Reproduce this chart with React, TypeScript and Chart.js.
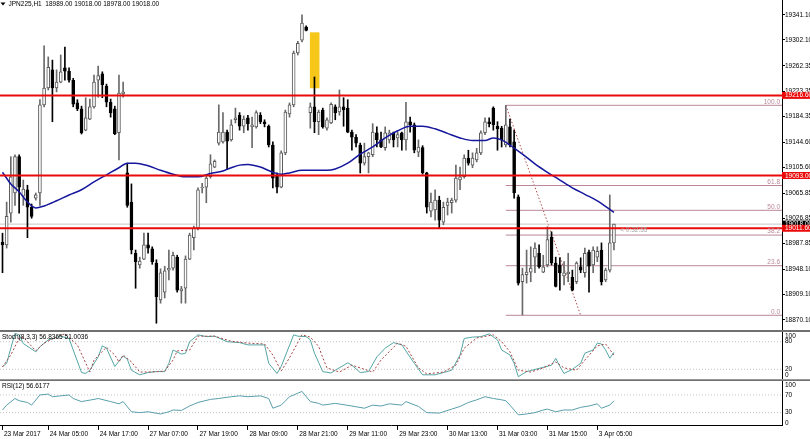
import React, { useEffect, useRef } from "react";
import { Chart, registerables } from "chart.js";

Chart.register(...registerables);

const FONT = "'Liberation Sans', Arial, sans-serif";

// ---------- data ----------
const barOpen = [
  18990, 18986, 19035, 19066, 19122, 19061, 19071, 19044, 19058, 19066,
  19202, 19228, 19256, 19228, 19237, 19259, 19254, 19240, 19205, 19196,
  19163, 19180, 19199, 19240, 19250, 19231, 19206, 19196, 19159, 19219,
  19097, 19052, 18973, 18955, 18964, 18986, 18980, 18958, 18901, 18913,
  18947, 18950, 18967, 18915, 18919, 18964, 18997, 19012, 19074, 19075,
  19091, 19106, 19143, 19145, 19160, 19148, 19179, 19186, 19169, 19182,
  19168, 19168, 19186, 19176, 19169, 19140, 19092, 19075, 19128, 19188,
  19202, 19282, 19302, 19322, 19190, 19199, 19176, 19194, 19166, 19174,
  19199, 19191, 19199, 19197, 19160, 19152, 19140, 19112, 19122, 19125,
  19159, 19148, 19136, 19148, 19159, 19151, 19159, 19148, 19176, 19171,
  19129, 19136, 19097, 19038, 19040, 19055, 19021, 19047, 19051, 19055,
  19086, 19091, 19120, 19109, 19117, 19128, 19159, 19176, 19197, 19169,
  19166, 19140, 19168, 19145, 19060, 18929, 18940, 18944, 18967, 18973,
  18944, 18955, 18998, 18958, 18955, 18938, 18941, 18936, 18929, 18952,
  18943, 18975, 18955, 18967, 18978, 18932, 18947, 18989,
];
const barHigh = [
  19004, 19052, 19122, 19125, 19125, 19086, 19078, 19049, 19066, 19210,
  19293, 19276, 19271, 19256, 19279, 19291, 19259, 19243, 19210, 19200,
  19213, 19211, 19248, 19262, 19253, 19234, 19211, 19200, 19248, 19237,
  19112, 19080, 18978, 18967, 19004, 19004, 18983, 18963, 18949, 18953,
  18978, 18975, 18970, 18922, 18969, 19004, 19015, 19074, 19081, 19094,
  19125, 19117, 19202, 19190, 19163, 19179, 19197, 19190, 19185, 19186,
  19183, 19193, 19190, 19179, 19171, 19145, 19097, 19131, 19194, 19205,
  19285, 19300, 19341, 19324, 19205, 19245, 19194, 19197, 19182, 19205,
  19202, 19225, 19213, 19210, 19163, 19156, 19143, 19143, 19129, 19173,
  19168, 19160, 19168, 19163, 19160, 19160, 19160, 19206, 19183, 19174,
  19148, 19139, 19098, 19066, 19071, 19061, 19052, 19058, 19058, 19109,
  19106, 19125, 19132, 19128, 19135, 19162, 19182, 19182, 19199, 19176,
  19169, 19201, 19180, 19163, 19063, 18950, 18978, 18983, 18989, 18986,
  18970, 19014, 19006, 18967, 18966, 18960, 18973, 18947, 18960, 18966,
  18981, 18978, 18983, 18983, 18989, 18950, 19063, 19018,
];
const barLow = [
  18943, 18981, 19021, 19047, 19035, 19047, 18997, 19027, 19055, 19047,
  19199, 19225, 19176, 19222, 19236, 19240, 19237, 19199, 19193, 19157,
  19162, 19179, 19197, 19214, 19213, 19199, 19183, 19156, 19117, 19214,
  19044, 18972, 18919, 18950, 18963, 18973, 18956, 18865, 18896, 18904,
  18932, 18947, 18913, 18896, 18896, 18963, 18978, 19009, 19066, 19051,
  19089, 19105, 19140, 19143, 19102, 19146, 19174, 19163, 19159, 19163,
  19136, 19166, 19173, 19168, 19137, 19074, 19066, 19074, 19125, 19183,
  19199, 19279, 19299, 19316, 19166, 19159, 19156, 19166, 19163, 19173,
  19179, 19186, 19169, 19159, 19132, 19137, 19097, 19109, 19097, 19122,
  19137, 19136, 19132, 19143, 19137, 19137, 19132, 19132, 19160, 19128,
  19122, 19095, 19035, 19029, 19024, 19012, 19017, 19032, 19035, 19052,
  19071, 19089, 19109, 19105, 19114, 19125, 19156, 19168, 19163, 19132,
  19137, 19137, 19137, 19058, 18924, 18878, 18927, 18929, 18943, 18950,
  18943, 18952, 18955, 18921, 18916, 18924, 18929, 18915, 18926, 18943,
  18936, 18913, 18943, 18960, 18924, 18929, 18944, 18978,
];
const barClose = [
  18986, 19030, 19091, 19122, 19075, 19072, 19044, 19030, 19063, 19202,
  19228, 19260, 19228, 19237, 19253, 19254, 19240, 19203, 19196, 19159,
  19182, 19199, 19237, 19247, 19233, 19206, 19190, 19157, 19220, 19222,
  19047, 18978, 18960, 18961, 18986, 18981, 18960, 18906, 18943, 18946,
  18950, 18970, 18916, 18918, 18964, 19001, 19012, 19071, 19075, 19089,
  19111, 19115, 19160, 19160, 19146, 19171, 19182, 19169, 19180, 19173,
  19171, 19190, 19176, 19173, 19140, 19089, 19075, 19128, 19191, 19202,
  19282, 19297, 19328, 19317, 19199, 19176, 19191, 19168, 19179, 19203,
  19190, 19199, 19194, 19160, 19152, 19143, 19112, 19122, 19128, 19160,
  19148, 19137, 19159, 19159, 19148, 19156, 19148, 19176, 19171, 19132,
  19137, 19097, 19044, 19052, 19055, 19024, 19044, 19052, 19055, 19089,
  19091, 19120, 19112, 19120, 19128, 19159, 19176, 19173, 19171, 19165,
  19148, 19171, 19140, 19066, 18927, 18940, 18944, 18950, 18981, 18952,
  18952, 18994, 18958, 18922, 18943, 18943, 18944, 18916, 18958, 18947,
  18973, 18953, 18978, 18976, 18929, 18947, 18989, 19018,
];

// moving average: [bar, price]
const maLine: [number, number][] = [
  [0, 19098], [2, 19080], [4, 19068], [6, 19052], [8, 19043], [10, 19046], [13, 19054],
  [16, 19063], [19, 19071], [22, 19083], [25, 19094], [28, 19105], [30, 19112], [32, 19112],
  [35, 19108], [38, 19101], [41, 19095], [44, 19091], [47, 19091], [50, 19096], [53, 19100],
  [55, 19105], [57, 19109], [59, 19110], [62, 19106], [65, 19098], [67, 19095], [69, 19097],
  [72, 19101], [75, 19101], [78, 19101], [80, 19103], [83, 19112], [86, 19126], [89, 19137],
  [92, 19151], [95, 19162], [98, 19169], [101, 19169], [104, 19165], [107, 19158], [110, 19151],
  [113, 19147], [116, 19147], [118, 19151], [120, 19148], [122, 19140], [125, 19126], [128, 19111],
  [131, 19098], [134, 19086], [137, 19074], [140, 19064], [143, 19054], [147, 19036],
];

const stochMain: [number, number][] = [
  [0, 26], [1, 33], [2, 66], [3, 98], [4, 95], [5, 76], [8, 58], [9, 69], [11, 84], [14, 92],
  [16, 87], [17, 62], [19, 13], [20, 11], [21, 18], [23, 47], [24, 71], [25, 66], [27, 26],
  [29, 49], [30, 42], [31, 18], [33, 8], [35, 13], [37, 15], [39, 15], [40, 33], [41, 62],
  [43, 53], [44, 55], [45, 80], [47, 95], [49, 91], [51, 92], [54, 80], [57, 78], [59, 73],
  [63, 73], [64, 33], [66, 11], [67, 26], [70, 95], [71, 92], [73, 91], [74, 84], [75, 55],
  [76, 35], [77, 15], [79, 12], [80, 18], [83, 34], [84, 29], [86, 13], [88, 15], [90, 47],
  [92, 66], [94, 78], [96, 73], [99, 33], [101, 8], [104, 8], [108, 18], [110, 51], [111, 87],
  [113, 90], [115, 91], [117, 97], [119, 84], [120, 62], [122, 51], [123, 33], [124, 4],
  [126, 15], [129, 22], [132, 29], [133, 44], [134, 26], [135, 11], [137, 20], [139, 33],
  [140, 55], [142, 62], [143, 77], [144, 75], [145, 62], [146, 44], [147, 56.84],
];
const stochSignal: [number, number][] = [
  [0, 25], [2, 51], [4, 88], [5, 90], [8, 60], [10, 77], [13, 90], [15, 97], [18, 73],
  [21, 14], [22, 40], [25, 68], [27, 51], [28, 36], [29, 51], [31, 36], [33, 14], [35, 14],
  [39, 16], [41, 40], [42, 60], [45, 62], [47, 92], [51, 92], [55, 81], [59, 77], [63, 75],
  [65, 51], [67, 16], [69, 45], [72, 95], [74, 90], [76, 70], [77, 45], [78, 23], [81, 14],
  [84, 29], [86, 23], [89, 14], [91, 40], [95, 77], [97, 70], [100, 23], [102, 10], [106, 14],
  [109, 29], [111, 66], [114, 88], [118, 95], [120, 80], [122, 58], [124, 18], [127, 14],
  [130, 23], [133, 36], [135, 23], [138, 18], [140, 40], [143, 71], [145, 75], [147, 51],
];
const rsiLine: [number, number][] = [
  [0, 36], [1, 47], [3, 62], [4, 57], [6, 53], [7, 47], [9, 70], [11, 72], [12, 66], [14, 68],
  [16, 70], [17, 62], [19, 55], [22, 60], [23, 62], [26, 55], [28, 50], [29, 55], [31, 32],
  [33, 30], [35, 32], [38, 27], [40, 32], [41, 36], [43, 35], [45, 45], [47, 53], [50, 60],
  [52, 62], [55, 66], [57, 68], [59, 66], [62, 68], [64, 62], [65, 40], [67, 47], [69, 66],
  [71, 74], [72, 78], [74, 55], [76, 51], [77, 47], [80, 51], [84, 45], [87, 40], [89, 47],
  [91, 45], [93, 50], [96, 47], [97, 55], [100, 44], [102, 30], [105, 29], [108, 38], [110, 44],
  [112, 53], [114, 59], [116, 66], [118, 62], [120, 59], [121, 57], [122, 47], [124, 25],
  [126, 27], [128, 30], [130, 36], [131, 38], [133, 32], [135, 36], [137, 36], [139, 42],
  [141, 45], [143, 50], [144, 40], [146, 47], [147, 56.62],
];

const priceTicks = [19341.1, 19302.1, 19262.35, 19223.35, 19184.35, 19144.6, 19105.6, 19065.85, 19026.85, 18987.85, 18948.1, 18909.1, 18870.1];
const timeTicks: [number, string][] = [
  [0, "23 Mar 2017"], [11, "24 Mar 05:00"], [23, "24 Mar 17:00"], [35, "27 Mar 07:00"],
  [47, "27 Mar 19:00"], [59, "28 Mar 09:00"], [71, "28 Mar 21:00"], [83, "29 Mar 11:00"],
  [95, "29 Mar 23:00"], [107, "30 Mar 13:00"], [119, "31 Mar 03:00"], [131, "31 Mar 15:00"],
  [143, "3 Apr 05:00"],
];
const redLevels = [19216.6, 19093.0, 19011.6];
const lastPrice = 19018.0;
const fibRatios = [100, 61.8, 50, 38.2, 23.6, 0];
const fibHigh = 19201.3;
const fibLow = 18877.3;
const fibFromBar = 121;
const fibToBar = 139;
const gapZone = { fromBar: 73.9, toBar: 76.2, low: 19227.6, high: 19313.9 };
const stochLevels = [80, 20];
const stochScale = [100, 80, 20, 0];
const rsiLevels = [70, 30];
const rsiScale = [100, 70, 30, 0];
const headerText = "JPN225,H1  18989.00 19018.00 18978.00 19018.00";
const stochTitle = "Stoch(8,3,3) 56.8365 51.0036";
const rsiTitle = "RSI(12) 56.6177";
const timerText = "< 0:32:55";

const PRICE_MIN = 18854.6;
const PRICE_MAX = 19363.8;
const X_MIN = -0.6;
const X_MAX = 187.4;

// ---------- styles ----------
const W = 810;
const AXIS_W = 28;
const FS = 6.5;
const FIB_COLOR = "#b9879a";
const RED = "#ea0a0a";

const pts = (a: [number, number][]) => a.map(([x, y]) => ({ x, y }));
const hline = (v: number, from = X_MIN) => [{ x: from, y: v }, { x: X_MAX, y: v }];
const fibPrice = (r: number) => fibLow + ((fibHigh - fibLow) * r) / 100;

const fitY = (s: any) => {
  s.width = AXIS_W;
  s.paddingTop = 0;
  s.paddingBottom = 0;
};

const baseOptions = (padTop: number, padBottom: number) => ({
  responsive: false,
  maintainAspectRatio: false,
  animation: false as const,
  devicePixelRatio: 1,
  events: [] as any[],
  layout: { padding: { top: padTop, bottom: padBottom, left: 0, right: 0 } },
  plugins: { legend: { display: false }, tooltip: { enabled: false } },
});

const indicatorLabels = (chart: any, values: number[], title: string, titleY: number) => {
  const { ctx, chartArea, scales } = chart;
  const y = scales.y;
  ctx.save();
  ctx.font = `${FS}px ${FONT}`;
  ctx.fillStyle = "#000";
  ctx.textBaseline = "middle";
  ctx.textAlign = "left";
  ctx.fillText(title, 2, titleY);
  values.forEach((v) => {
    let py = y.getPixelForValue(v);
    py = Math.max(chartArea.top + 3.3, Math.min(chartArea.bottom - 3, py));
    ctx.fillText(String(v), chartArea.right + 3, py);
  });
  ctx.restore();
};

export default function App() {
  const mainRef = useRef<HTMLCanvasElement>(null);
  const stochRef = useRef<HTMLCanvasElement>(null);
  const rsiRef = useRef<HTMLCanvasElement>(null);

  useEffect(() => {
    Chart.defaults.font.family = FONT;
    Chart.defaults.font.size = FS;
    Chart.defaults.color = "#000";

    const bull = barOpen.map((o, i) => barClose[i] >= o);
    const bodies = barOpen.map((o, i) => ({ x: i, y: [o, barClose[i]] }));
    const wicks = barLow.map((l, i) => ({ x: i, y: [l, barHigh[i]] }));

    const mainChart = new Chart(mainRef.current!, {
      type: "bar",
      data: {
        datasets: [
          ...redLevels.map((v) => ({
            type: "line" as const,
            data: hline(v),
            borderColor: RED,
            borderWidth: 2,
            pointRadius: 0,
            order: 0,
          })),
          {
            type: "line" as const,
            data: pts(maLine),
            borderColor: "#15179c",
            borderWidth: 1.5,
            pointRadius: 0,
            cubicInterpolationMode: "monotone" as const,
            order: 1,
          },
          {
            type: "bar" as const,
            data: bodies as any,
            backgroundColor: bull.map((b) => (b ? "#ffffff" : "#000000")),
            borderColor: bull.map((b) => (b ? "#5a5a5a" : "#000000")),
            borderWidth: 1,
            borderSkipped: false,
            barThickness: 3,
            grouped: false,
            order: 2,
          },
          {
            type: "bar" as const,
            data: wicks as any,
            backgroundColor: bull.map((b) => (b ? "#6a6a6a" : "#000000")),
            borderWidth: 0,
            barThickness: 1,
            grouped: false,
            order: 3,
          },
          {
            type: "line" as const,
            data: hline(lastPrice),
            borderColor: "#c8c8c8",
            borderWidth: 1,
            pointRadius: 0,
            order: 4,
          },
          ...fibRatios.map((r) => ({
            type: "line" as const,
            data: hline(fibPrice(r), fibFromBar),
            borderColor: FIB_COLOR,
            borderWidth: 1,
            pointRadius: 0,
            order: 5,
          })),
          {
            type: "line" as const,
            data: [{ x: fibFromBar, y: fibHigh }, { x: fibToBar, y: fibLow }],
            borderColor: "#b04a4a",
            borderWidth: 1,
            borderDash: [1.5, 2],
            pointRadius: 0,
            order: 5,
          },
        ],
      },
      options: {
        ...baseOptions(0, 0),
        scales: {
          x: { type: "linear", min: X_MIN, max: X_MAX, display: false, offset: false },
          y: {
            type: "linear",
            position: "right",
            min: PRICE_MIN,
            max: PRICE_MAX,
            afterBuildTicks: (s: any) => {
              s.ticks = priceTicks.map((v) => ({ value: v }));
            },
            afterFit: fitY,
            ticks: {
              callback: (v: any) => Number(v).toFixed(2),
              padding: 0,
              color: "#000",
              font: { size: FS, family: FONT },
              autoSkip: false,
            },
            grid: { drawOnChartArea: false, drawTicks: true, tickLength: 3, color: "#000" },
            border: { display: true, color: "#000", width: 1 },
          },
        },
      } as any,
      plugins: [
        {
          id: "mainDecor",
          beforeDatasetsDraw(chart: any) {
            const { ctx, scales } = chart;
            const x0 = scales.x.getPixelForValue(gapZone.fromBar);
            const x1 = scales.x.getPixelForValue(gapZone.toBar);
            const y0 = scales.y.getPixelForValue(gapZone.high);
            const y1 = scales.y.getPixelForValue(gapZone.low);
            ctx.save();
            ctx.fillStyle = "#f6c619";
            ctx.fillRect(x0, y0, x1 - x0, y1 - y0);
            ctx.restore();
          },
          afterDraw(chart: any) {
            const { ctx, chartArea, scales } = chart;
            const y = scales.y;
            const x = scales.x;
            ctx.save();
            ctx.font = `${FS}px ${FONT}`;
            ctx.textBaseline = "middle";
            // fib labels
            ctx.fillStyle = FIB_COLOR;
            ctx.textAlign = "right";
            fibRatios.forEach((r) => {
              ctx.fillText(r.toFixed(1), chartArea.right - 2, y.getPixelForValue(fibPrice(r)) - 3.4);
            });
            // price boxes
            ctx.textAlign = "left";
            const boxes = [{ v: lastPrice, c: "#000000" }, ...redLevels.map((v) => ({ v, c: RED }))];
            boxes.forEach((b) => {
              const py = y.getPixelForValue(b.v);
              ctx.fillStyle = b.c;
              ctx.fillRect(chartArea.right, py - 3.5, AXIS_W, 7);
              ctx.fillStyle = "#ffffff";
              ctx.fillText(b.v.toFixed(2), chartArea.right + 3, py + 0.3);
            });
            // timer
            ctx.fillStyle = "#a8a8a8";
            ctx.fillText(timerText, x.getPixelForValue(148.5), y.getPixelForValue(19009));
            // header
            ctx.fillStyle = "#000";
            ctx.beginPath();
            ctx.moveTo(0.5, 2.5);
            ctx.lineTo(5.5, 2.5);
            ctx.lineTo(3, 5.5);
            ctx.closePath();
            ctx.fill();
            ctx.fillText(headerText, 8.5, 4.3);
            ctx.restore();
          },
        },
      ],
    });

    const indicatorY = {
      type: "linear",
      position: "right",
      min: 0,
      max: 100,
      afterFit: fitY,
      ticks: { display: false },
      grid: { display: false },
      border: { display: true, color: "#000", width: 1 },
    };

    const levelSet = (levels: number[]) =>
      levels.map((v) => ({
        data: hline(v),
        borderColor: "#c4c4c4",
        borderWidth: 1,
        borderDash: [1, 2],
        pointRadius: 0,
        order: 5,
      }));

    const stochChart = new Chart(stochRef.current!, {
      type: "line",
      data: {
        datasets: [
          {
            data: pts(stochMain),
            borderColor: "#55a6a4",
            borderWidth: 1,
            pointRadius: 0,
            order: 1,
          },
          {
            data: pts(stochSignal),
            borderColor: "#a84444",
            borderWidth: 1,
            borderDash: [2, 2],
            pointRadius: 0,
            order: 0,
          },
          ...levelSet(stochLevels),
        ],
      },
      options: {
        ...baseOptions(2.5, 2.5),
        scales: {
          x: { type: "linear", min: X_MIN, max: X_MAX, display: false, offset: false },
          y: indicatorY,
        },
      } as any,
      plugins: [
        {
          id: "stochDecor",
          beforeDraw(chart: any) {
            const { ctx } = chart;
            ctx.save();
            ctx.fillStyle = "#707070";
            ctx.fillRect(0, 0, W, 2);
            ctx.fillRect(0, 49.3, W, 1.7);
            ctx.restore();
          },
          afterDraw(chart: any) {
            indicatorLabels(chart, stochScale, stochTitle, 7);
          },
        },
      ],
    });

    const tickMap = new Map(timeTicks);
    const rsiChart = new Chart(rsiRef.current!, {
      type: "line",
      data: {
        datasets: [
          {
            data: pts(rsiLine),
            borderColor: "#5a9fac",
            borderWidth: 1,
            pointRadius: 0,
            order: 0,
          },
          ...levelSet(rsiLevels),
        ],
      },
      options: {
        ...baseOptions(0.7, 0),
        scales: {
          x: {
            type: "linear",
            min: X_MIN,
            max: X_MAX,
            offset: false,
            afterBuildTicks: (s: any) => {
              s.ticks = timeTicks.map(([v]) => ({ value: v }));
            },
            afterFit: (s: any) => {
              s.height = 13.1;
              s.paddingLeft = 0;
              s.paddingRight = 0;
            },
            ticks: {
              callback: (v: any) => tickMap.get(Number(v)) ?? "",
              autoSkip: false,
              maxRotation: 0,
              minRotation: 0,
              align: "start",
              labelOffset: 1.5,
              padding: 0,
              color: "#000",
              font: { size: FS, family: FONT },
            },
            grid: { drawOnChartArea: false, drawTicks: true, tickLength: 4, color: "#000" },
            border: { display: true, color: "#000", width: 1 },
          },
          y: indicatorY,
        },
      } as any,
      plugins: [
        {
          id: "rsiDecor",
          afterDraw(chart: any) {
            indicatorLabels(chart, rsiScale, rsiTitle, 5.5);
          },
        },
      ],
    });

    return () => {
      mainChart.destroy();
      stochChart.destroy();
      rsiChart.destroy();
    };
  }, []);

  const cs = (top: number, h: number): React.CSSProperties => ({
    position: "absolute",
    left: 0,
    top,
    width: W,
    height: h,
  });

  return (
    <div style={{ position: "fixed", left: 0, top: 0, width: W, height: 439, background: "#fff", overflow: "hidden" }}>
      <canvas ref={mainRef} width={W} height={330} style={cs(0, 330)} />
      <canvas ref={stochRef} width={W} height={51} style={cs(330, 51)} />
      <canvas ref={rsiRef} width={W} height={58} style={cs(381, 58)} />
    </div>
  );
}
